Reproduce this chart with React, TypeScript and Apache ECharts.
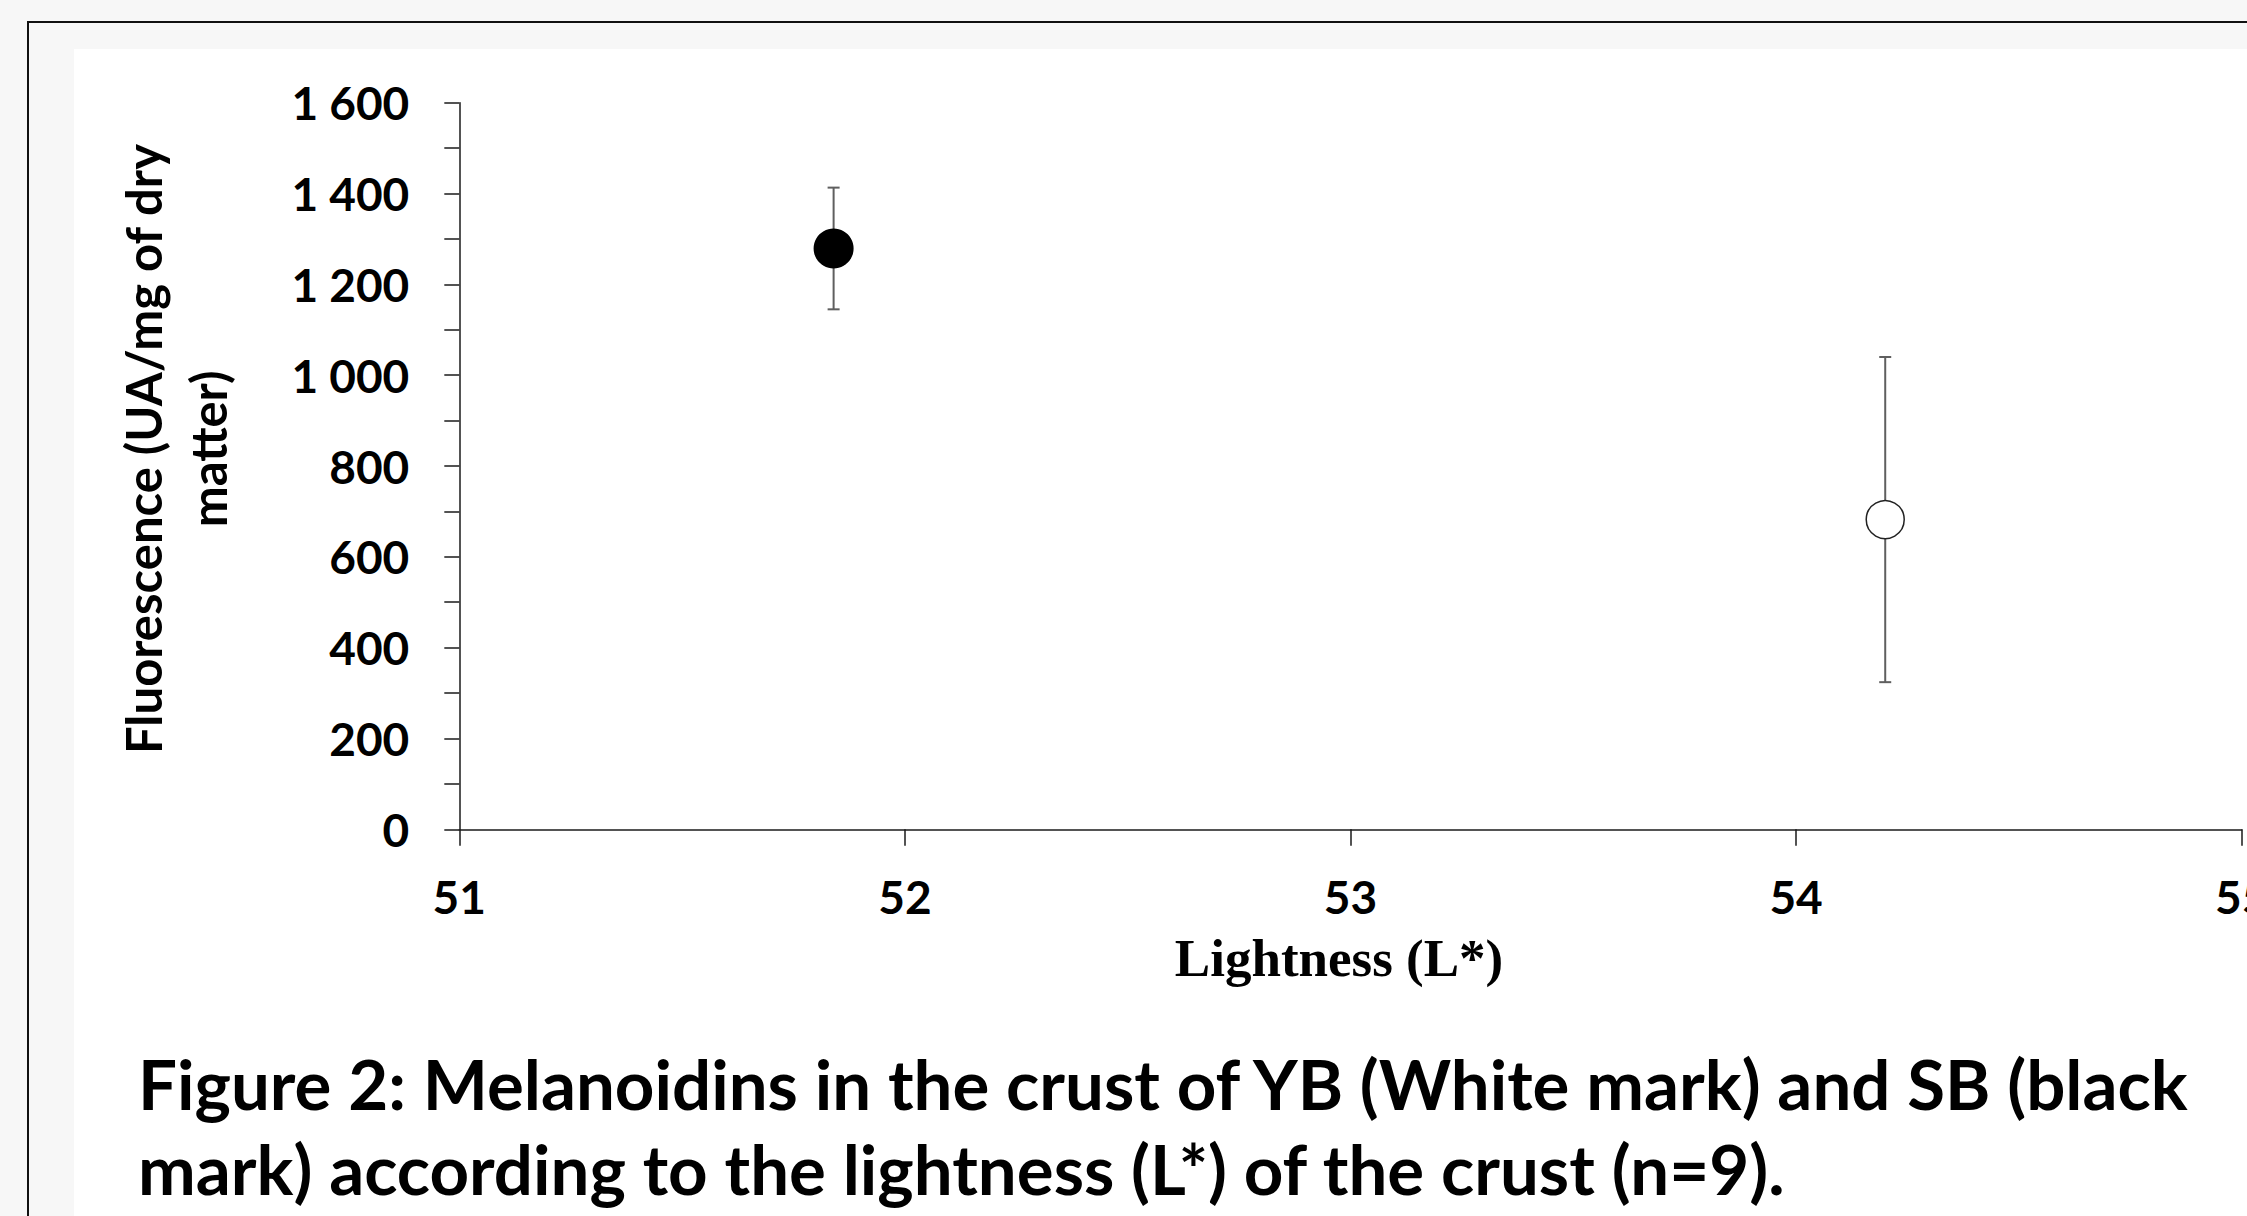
import React, { useEffect, useRef } from "react";
import * as echarts from "echarts";

// ---- data ----
const seriesNames = ["SB (black mark)", "YB (white mark)"];
const lightness = [51.84, 54.2];
const fluorescence = [1279, 682];
const errorHalf = [134, 358];
const markFill = ["#000000", "#ffffff"];
const xRange = [51, 55];
const yRange = [0, 1600];
const xAxisName = "Lightness (L*)";
const yAxisName = "Fluorescence (UA/mg of dry\nmatter)";
const captionLines = [
  "Figure 2: Melanoidins in the crust of YB (White mark) and SB (black",
  "mark) according to the lightness (L*) of the crust (n=9).",
];

const W = 2247;
const H = 1216;
const SANS = "Lato, 'Open Sans', sans-serif";

function fmtThousands(v: number): string {
  if (v >= 1000) {
    const th = Math.floor(v / 1000);
    const rest = String(v % 1000).padStart(3, "0");
    return `${th} ${rest}`;
  }
  return String(v);
}

export default function App() {
  const ref = useRef<HTMLDivElement>(null);

  useEffect(() => {
    if (!ref.current) return;
    const chart = echarts.init(ref.current, undefined, { renderer: "svg" });

    const errData = lightness.map((x, i) => [
      x,
      fluorescence[i] - errorHalf[i],
      fluorescence[i] + errorHalf[i],
    ]);

    const option: any = {
      animation: false,
      backgroundColor: "transparent",
      grid: {
        left: 459.3,
        right: 5.3,
        top: 102.7,
        bottom: 386.7,
        containLabel: false,
        outerBoundsMode: "none",
      },
      xAxis: {
        type: "value",
        min: xRange[0],
        max: xRange[1],
        interval: 1,
        name: xAxisName,
        nameLocation: "middle",
        nameGap: 102,
        nameTextStyle: {
          fontFamily: "'Liberation Serif', 'Times New Roman', serif",
          fontWeight: "bold",
          fontSize: 53,
          color: "#000",
          padding: [0, 23, 0, 0],
        },
        axisLine: { show: true, onZero: false, lineStyle: { color: "#1a1a1a", width: 1.5 } },
        axisTick: { show: true, inside: false, length: 16.5, lineStyle: { color: "#1a1a1a", width: 1.5 } },
        axisLabel: {
          show: true,
          margin: 44,
          fontFamily: SANS,
          fontWeight: "bold",
          fontSize: 46,
          color: "#000",
          showMaxLabel: true,
          showMinLabel: true,
          hideOverlap: false,
        },
        splitLine: { show: false },
      },
      yAxis: {
        type: "value",
        min: yRange[0],
        max: yRange[1],
        interval: 200,
        name: yAxisName,
        nameLocation: "middle",
        nameRotate: 90,
        nameGap: 219,
        nameTextStyle: {
          fontFamily: SANS,
          fontWeight: "bold",
          fontSize: 49,
          lineHeight: 65,
          color: "#000",
          align: "center",
          padding: [0, 0, 0, 34],
        },
        axisLine: { show: true, onZero: false, lineStyle: { color: "#1a1a1a", width: 1.5 } },
        axisTick: { show: true, inside: false, length: 15, lineStyle: { color: "#1a1a1a", width: 1.5 } },
        minorTick: { show: true, splitNumber: 2, length: 15, lineStyle: { color: "#1a1a1a", width: 1.5 } },
        axisLabel: {
          show: true,
          margin: 50,
          fontFamily: SANS,
          fontWeight: "bold",
          fontSize: 46,
          color: "#000",
          formatter: (v: number) => fmtThousands(v),
        },
        splitLine: { show: false },
        minorSplitLine: { show: false },
      },
      graphic: [
        {
          type: "text",
          x: 138,
          y: 1041,
          z: 10,
          style: {
            text: captionLines.join("\n"),
            fontFamily: SANS,
            fontWeight: "bold",
            fontSize: 69,
            lineHeight: 85,
            fill: "#000",
            align: "left",
            verticalAlign: "top",
          },
        },
      ],
      series: [
        {
          type: "custom",
          name: "error bars",
          z: 1,
          silent: true,
          clip: false,
          encode: { x: 0, y: [1, 2] },
          data: errData,
          renderItem: (_params: any, api: any) => {
            const x = api.value(0);
            const lo = api.value(1);
            const hi = api.value(2);
            const top = api.coord([x, hi]);
            const bot = api.coord([x, lo]);
            const cap = 6;
            const style = { stroke: "#5f5f5f", lineWidth: 2 };
            return {
              type: "group",
              children: [
                { type: "line", shape: { x1: top[0], y1: top[1], x2: bot[0], y2: bot[1] }, style },
                { type: "line", shape: { x1: top[0] - cap, y1: top[1], x2: top[0] + cap, y2: top[1] }, style },
                { type: "line", shape: { x1: bot[0] - cap, y1: bot[1], x2: bot[0] + cap, y2: bot[1] }, style },
              ],
            };
          },
        },
        ...lightness.map((x, i) => ({
          type: "scatter",
          name: seriesNames[i],
          z: 5,
          symbol: "circle",
          symbolSize: i === 0 ? 40 : 38,
          data: [[x, fluorescence[i]]],
          itemStyle: {
            color: markFill[i],
            borderColor: "#222222",
            borderWidth: i === 0 ? 0 : 1.5,
            opacity: 1,
          },
        })),
      ],
    };

    chart.setOption(option);
    return () => chart.dispose();
  }, []);

  return (
    <div
      style={{
        position: "fixed",
        left: 0,
        top: 0,
        width: W,
        height: H,
        background: "#f7f7f7",
        overflow: "hidden",
      }}
    >
      <div style={{ position: "absolute", left: 27, top: 21, width: W - 27, height: 2, background: "#111" }} />
      <div style={{ position: "absolute", left: 27, top: 21, width: 2, height: H - 21, background: "#111" }} />
      <div style={{ position: "absolute", left: 74, top: 49, width: W - 74, height: H - 49, background: "#ffffff" }} />
      <div ref={ref} style={{ position: "absolute", left: 0, top: 0, width: W, height: H }} />
    </div>
  );
}
